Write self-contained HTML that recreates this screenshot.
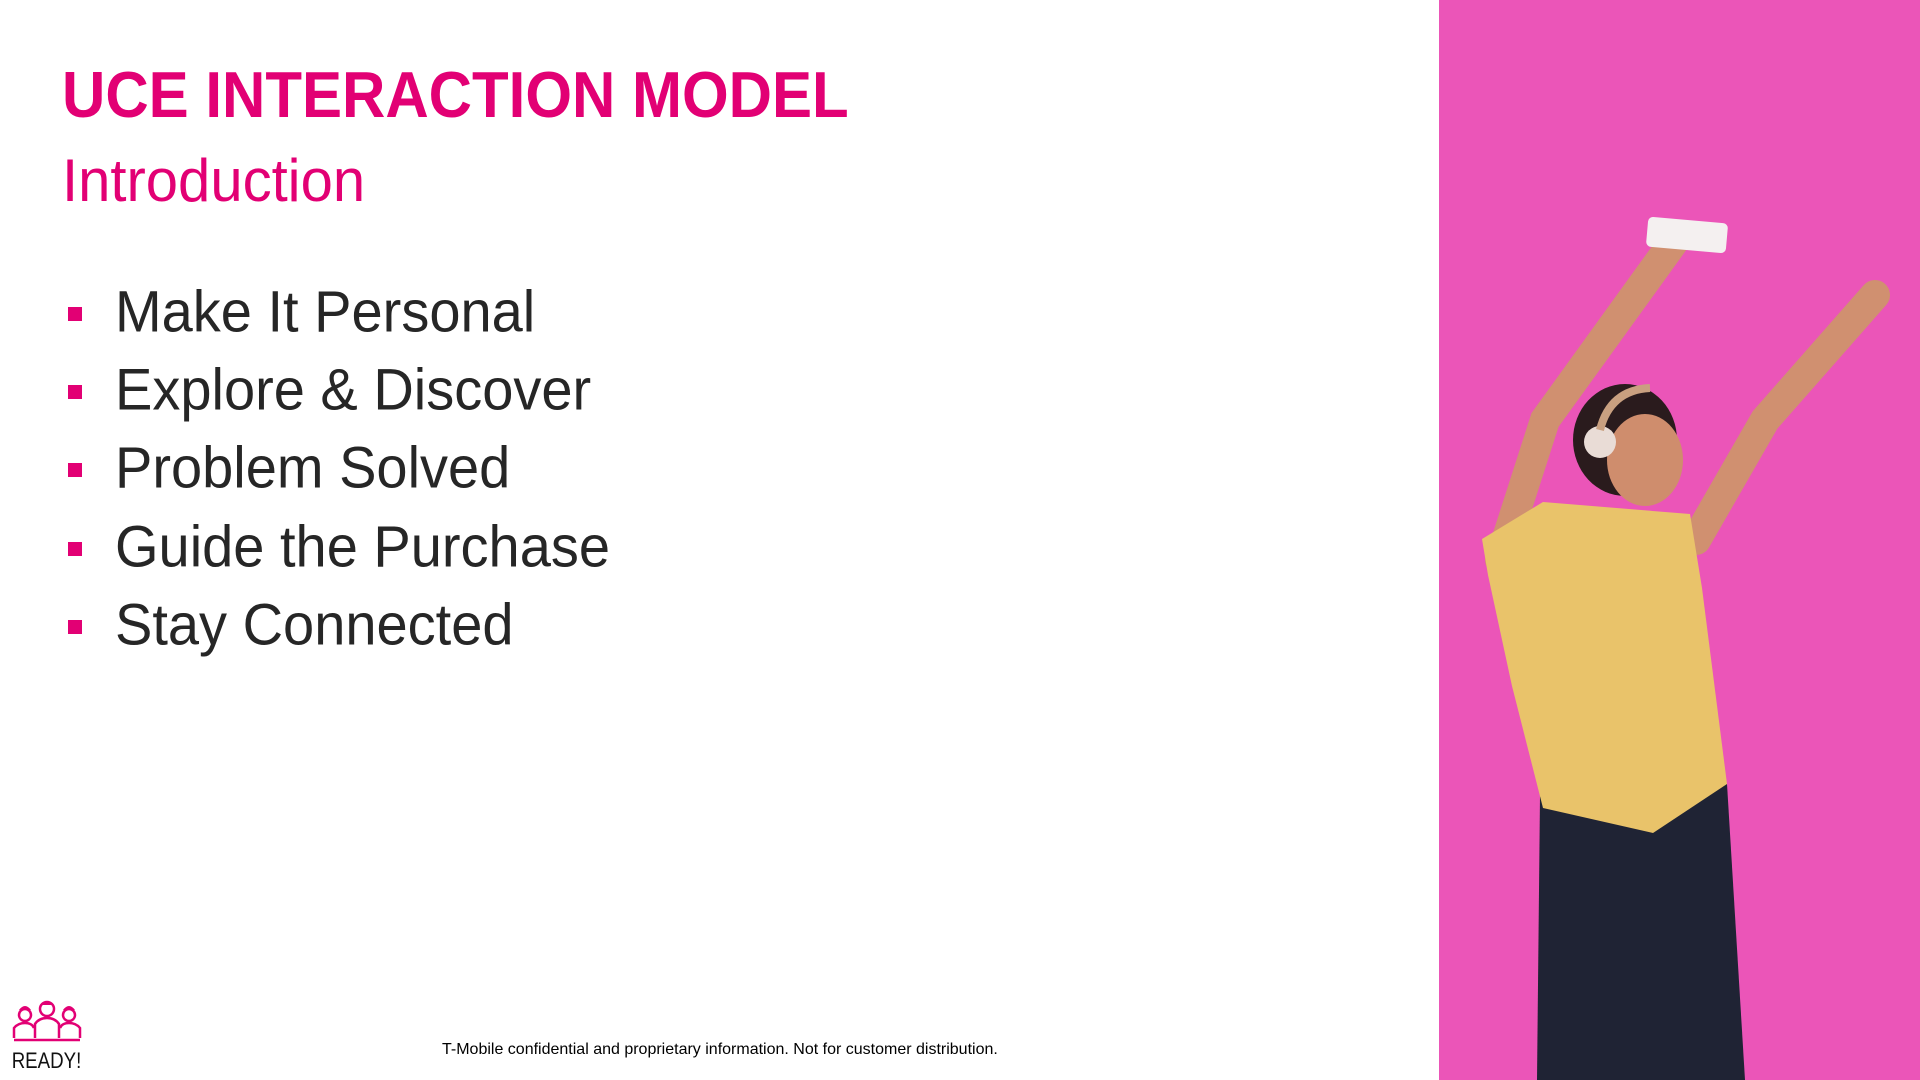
<!DOCTYPE html>
<html><head><meta charset="utf-8"><style>
html,body{margin:0;padding:0}
body{width:1920px;height:1080px;position:relative;overflow:hidden;background:#fff;font-family:"Liberation Sans",Arial,sans-serif}
.t{position:absolute;white-space:nowrap;line-height:1}
#title{left:62px;top:63px;font-size:60px;font-weight:bold;color:#e20074;transform:scaleY(1.08);transform-origin:left top}
#sub{left:62px;top:151px;font-size:58px;color:#e20074;transform:scaleY(1.04);transform-origin:left top}
.b{position:absolute;left:115px;font-size:56px;color:#262626;white-space:nowrap;line-height:1;transform:scaleY(1.05);transform-origin:left top}
.sq{position:absolute;left:68px;width:14px;height:14px;background:#e20074}
#foot{left:442px;top:1042px;font-size:16px;color:#000}
</style></head><body>
<div class="t" id="title">UCE INTERACTION MODEL</div>
<div class="t" id="sub">Introduction</div>

<div class="sq" style="top:307px"></div>
<div class="b" style="top:282px">Make It Personal</div>
<div class="sq" style="top:385px"></div>
<div class="b" style="top:360px">Explore &amp; Discover</div>
<div class="sq" style="top:463px"></div>
<div class="b" style="top:438px">Problem Solved</div>
<div class="sq" style="top:542px"></div>
<div class="b" style="top:517px">Guide the Purchase</div>
<div class="sq" style="top:620px"></div>
<div class="b" style="top:595px">Stay Connected</div>

<div class="t" id="foot">T-Mobile confidential and proprietary information. Not for customer distribution.</div>

<svg style="position:absolute;left:10px;top:998px" width="76" height="72" viewBox="0 0 76 72">
<g fill="none" stroke="#e20074" stroke-width="2.5">
<circle cx="15" cy="17" r="6"/><circle cx="37" cy="11" r="7"/><circle cx="59" cy="17" r="6"/>
<path d="M4 40 V30 Q8 25 15 25 Q22 25 24 30"/><path d="M25 40 V26 Q29 20 37 20 Q45 20 49 26 V40"/><path d="M50 30 Q52 25 59 25 Q66 25 70 30 V40"/>
<line x1="4" y1="42" x2="70" y2="42"/></g>
<path d="M9 12 Q15 4 21 12 Z M30 7 Q37 -1 44 7 Z M53 12 Q59 4 65 12 Z" fill="#e20074"/>
<text x="2" y="70" font-family="Liberation Sans, sans-serif" font-size="22" fill="#111" transform="scale(0.85,1)">READY!</text>
</svg>

<svg style="position:absolute;left:0;top:0" width="1920" height="1080" viewBox="0 0 1920 1080">
<rect x="1439" y="0" width="481" height="1080" fill="#ea4db4"/>
<rect x="1439" y="0" width="481" height="1080" fill="#f070c4" opacity="0.25"/>
<g stroke="#d09070" stroke-width="30" stroke-linecap="round" fill="none">
<polyline points="1500,560 1545,420 1675,240"/>
<polyline points="1696,540 1765,420 1875,295"/>
</g>
<rect x="1647" y="220" width="80" height="30" rx="5" fill="#f4f0f0" transform="rotate(5 1687 235)"/>
<polygon points="1540,796 1727,784 1745,1080 1537,1080" fill="#1f2334"/>
<polygon points="1482,539 1543,502 1690,514 1702,588 1727,784 1653,833 1543,808 1512,686 1488,575" fill="#e9c36a"/>
<ellipse cx="1625" cy="440" rx="52" ry="56" fill="#2a1b1d"/>
<ellipse cx="1645" cy="460" rx="38" ry="46" fill="#cf8d6d"/>
<circle cx="1600" cy="442" r="16" fill="#e9dcd6"/>
<path d="M1600 430 Q1610 390 1650 388" stroke="#c9a080" stroke-width="8" fill="none"/>
</svg>
</body></html>
